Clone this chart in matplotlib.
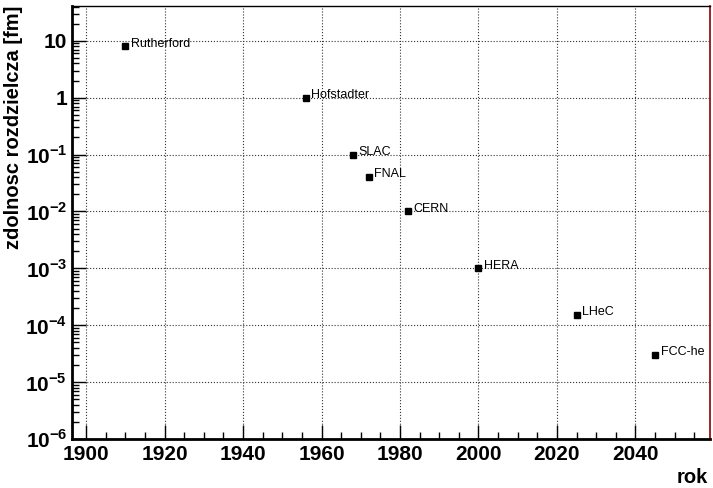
import matplotlib
matplotlib.use("Agg")
from matplotlib import pyplot as plt
from matplotlib.ticker import MultipleLocator, LogLocator, NullFormatter, FixedFormatter, FixedLocator

plt.rcParams['font.family'] = ['Liberation Sans', 'DejaVu Sans']
plt.rcParams['mathtext.fontset'] = 'custom'
plt.rcParams['mathtext.rm'] = 'Liberation Sans:bold'
plt.rcParams['mathtext.bf'] = 'Liberation Sans:bold'

names = ["Rutherford", "Hofstadter", "SLAC", "FNAL", "CERN", "HERA", "LHeC", "FCC-he"]
years = [1910, 1956, 1968, 1972, 1982, 2000, 2025, 2045]
resolution = [8, 1, 0.1, 0.04, 0.01, 1e-3, 1.5e-4, 3e-5]

yticks = [1e-6, 1e-5, 1e-4, 1e-3, 1e-2, 1e-1, 1, 10]
ylabels = ["10$^{\\mathrm{-6}}$", "10$^{\\mathrm{-5}}$", "10$^{\\mathrm{-4}}$", "10$^{\\mathrm{-3}}$",
           "10$^{\\mathrm{-2}}$", "10$^{\\mathrm{-1}}$", "1", "10"]

fig = plt.figure(figsize=(7.13, 4.88), dpi=100)
ax = fig.add_axes([72/713, 1-439/488, (710-72)/713, (439-6)/488])

ax.plot(years, resolution, 's', color='black', markersize=4.5, linestyle='none')
for n, x, y in zip(names, years, resolution):
    ax.annotate(n, (x, y), xytext=(4, 2), textcoords='offset points',
                fontsize=9, va='center', ha='left')

ax.set_yscale('log')
ax.set_xlim(1896.4, 2059)
ax.set_ylim(1e-6, 41)

ax.xaxis.set_major_locator(MultipleLocator(20))
ax.xaxis.set_minor_locator(MultipleLocator(5))
ax.yaxis.set_major_locator(FixedLocator(yticks))
ax.yaxis.set_major_formatter(FixedFormatter(ylabels))
ax.yaxis.set_minor_locator(LogLocator(base=10, subs=range(2, 10), numticks=20))
ax.yaxis.set_minor_formatter(NullFormatter())

ax.tick_params(which='both', direction='in', top=False, right=False)
ax.tick_params(which='major', length=10, width=1, labelsize=15)
ax.tick_params(which='minor', length=5, width=1)
ax.tick_params(axis='x', pad=4)
for lab in ax.get_xticklabels() + ax.get_yticklabels():
    lab.set_fontweight('bold')

ax.grid(True, which='major', linestyle=':', color='#333333', linewidth=0.8)

for s in ['left', 'bottom']:
    ax.spines[s].set_linewidth(2)
ax.spines['top'].set_linewidth(1)
ax.spines['right'].set_color('#8b0000')
ax.spines['right'].set_linewidth(1.2)

ax.set_ylabel('zdolnosc rozdzielcza [fm]', fontsize=14.5, fontweight='bold')
ax.yaxis.label.set_ha('right')
ax.yaxis.label.set_va('center')
ax.yaxis.set_label_coords(-0.091, 1.0)
ax.set_xlabel('rok', fontsize=14.5, fontweight='bold')
ax.xaxis.label.set_ha('right')
ax.xaxis.label.set_va('center')
ax.xaxis.set_label_coords(0.997, -0.09)

fig.savefig('out.png', dpi=100)
